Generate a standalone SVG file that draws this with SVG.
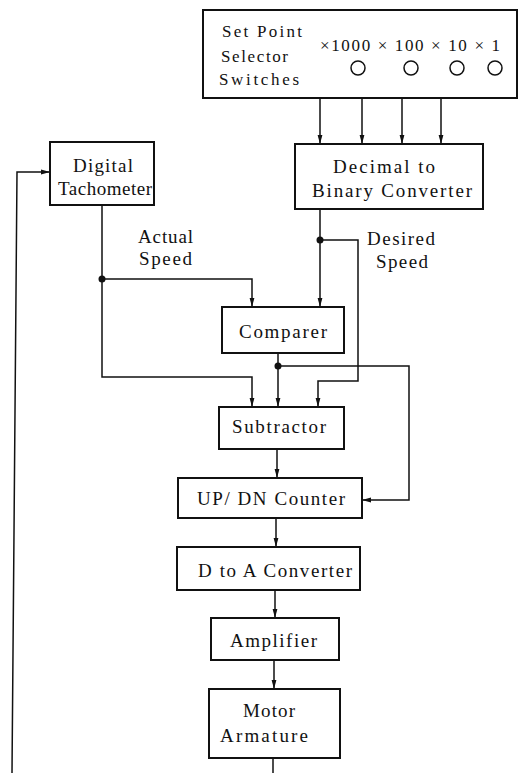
<svg xmlns="http://www.w3.org/2000/svg" width="521" height="773" viewBox="0 0 521 773">
  <style>
    .box { fill: #fff; stroke: #111; stroke-width: 2; }
    .wire { fill: none; stroke: #111; stroke-width: 1.5; }
    .lbl { font-family: "Liberation Serif", "Times New Roman", serif; font-size: 19px; fill: #111; }
    .sm { font-size: 17px; }
    .dot { fill: #111; }
    .knob { fill: none; stroke: #111; stroke-width: 1.5; }
  </style>
  <defs>
    <marker id="arr" markerUnits="userSpaceOnUse" markerWidth="10" markerHeight="6" refX="9" refY="3" orient="auto">
      <path d="M0,0.6 L9,3 L0,5.4 z" fill="#111"/>
    </marker>
  </defs>
  <rect width="521" height="773" fill="#fff"/>

  <!-- connectors -->
  <g id="connectors">
    <path class="wire" marker-end="url(#arr)" d="M320,98 V144"/>
    <path class="wire" marker-end="url(#arr)" d="M362,98 V144"/>
    <path class="wire" marker-end="url(#arr)" d="M402,98 V144"/>
    <path class="wire" marker-end="url(#arr)" d="M441,98 V144"/>
    <path class="wire" marker-end="url(#arr)" d="M320,209 V307"/>
    <path class="wire" marker-end="url(#arr)" d="M320,240 H358 V381 H318 V407"/>
    <path class="wire" marker-end="url(#arr)" d="M102,205 V377 H252 V407"/>
    <path class="wire" marker-end="url(#arr)" d="M102,279 H252 V307"/>
    <path class="wire" marker-end="url(#arr)" d="M278,353 V407"/>
    <path class="wire" marker-end="url(#arr)" d="M278,366 H409 V500 H362"/>
    <path class="wire" marker-end="url(#arr)" d="M277,449 V478"/>
    <path class="wire" marker-end="url(#arr)" d="M276,518 V547"/>
    <path class="wire" marker-end="url(#arr)" d="M275,590 V618"/>
    <path class="wire" marker-end="url(#arr)" d="M274,660 V689"/>
    <path class="wire" d="M273,758 V773"/>
    <path class="wire" marker-end="url(#arr)" d="M12,773 L17,172 H50"/>
    <circle class="dot" cx="320" cy="240" r="3.5"/>
    <circle class="dot" cx="102" cy="279" r="3.5"/>
    <circle class="dot" cx="278" cy="366" r="3.5"/>
    <text class="lbl" x="138" y="243" textLength="55" lengthAdjust="spacing">Actual</text>
    <text class="lbl" x="139" y="265" textLength="53" lengthAdjust="spacing">Speed</text>
    <text class="lbl" x="367" y="245" textLength="68" lengthAdjust="spacing">Desired</text>
    <text class="lbl" x="376" y="268" textLength="52" lengthAdjust="spacing">Speed</text>
  </g>

  <g id="setpoint">
    <rect class="box" x="203" y="10" width="314" height="88"/>
    <text class="lbl sm" x="222" y="37" textLength="80" lengthAdjust="spacing">Set Point</text>
    <text class="lbl sm" x="221" y="62" textLength="67" lengthAdjust="spacing">Selector</text>
    <text class="lbl sm" x="219" y="85" textLength="80" lengthAdjust="spacing">Switches</text>
    <text class="lbl sm" x="320" y="51" textLength="180" lengthAdjust="spacing">×1000 × 100 × 10 × 1</text>
    <circle class="knob" cx="358" cy="68" r="7"/>
    <circle class="knob" cx="411" cy="68" r="7"/>
    <circle class="knob" cx="457" cy="68" r="7"/>
    <circle class="knob" cx="495" cy="68" r="7"/>
  </g>

  <g id="decimal">
    <rect class="box" x="295" y="144" width="188" height="65"/>
    <text class="lbl" x="333" y="173" textLength="102" lengthAdjust="spacing">Decimal to</text>
    <text class="lbl" x="312" y="197" textLength="160" lengthAdjust="spacing">Binary Converter</text>
  </g>

  <g id="tachometer">
    <rect class="box" x="50" y="142" width="104" height="63"/>
    <text class="lbl" x="73" y="172" textLength="60" lengthAdjust="spacing">Digital</text>
    <text class="lbl" x="58" y="195" textLength="94" lengthAdjust="spacing">Tachometer</text>
  </g>

  <g id="comparer">
    <rect class="box" x="222" y="307" width="122" height="46"/>
    <text class="lbl" x="239" y="338" textLength="88" lengthAdjust="spacing">Comparer</text>
  </g>

  <g id="subtractor">
    <rect class="box" x="219" y="407" width="125" height="42"/>
    <text class="lbl" x="232" y="433" textLength="94" lengthAdjust="spacing">Subtractor</text>
  </g>

  <g id="counter">
    <rect class="box" x="178" y="478" width="184" height="40"/>
    <text class="lbl" x="197" y="505" textLength="148" lengthAdjust="spacing">UP/ DN Counter</text>
  </g>

  <g id="dac">
    <rect class="box" x="177" y="547" width="183" height="43"/>
    <text class="lbl" x="198" y="577" textLength="154" lengthAdjust="spacing">D to A Converter</text>
  </g>

  <g id="amplifier">
    <rect class="box" x="211" y="618" width="128" height="42"/>
    <text class="lbl" x="230" y="647" textLength="87" lengthAdjust="spacing">Amplifier</text>
  </g>

  <g id="motor">
    <rect class="box" x="209" y="689" width="131" height="69"/>
    <text class="lbl" x="243" y="717" textLength="52" lengthAdjust="spacing">Motor</text>
    <text class="lbl" x="220" y="742" textLength="88" lengthAdjust="spacing">Armature</text>
  </g>
</svg>
